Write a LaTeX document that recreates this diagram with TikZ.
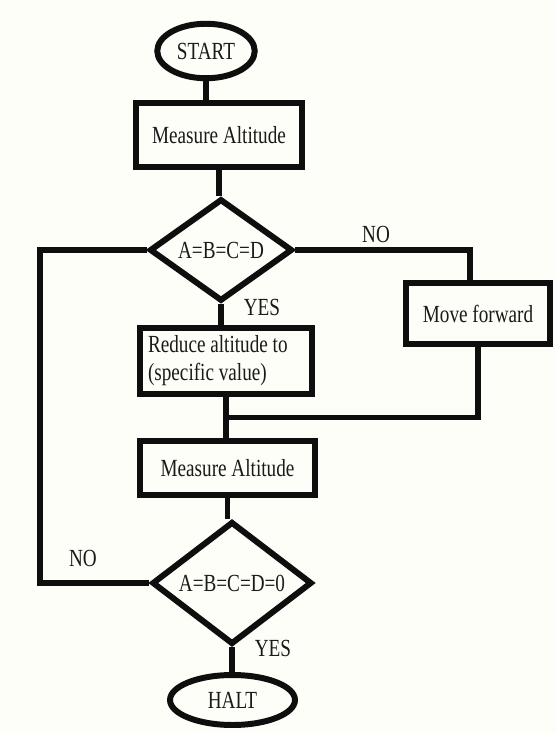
\documentclass[tikz,border=0pt]{standalone}
\usepackage{fontspec}
\setmainfont{Liberation Serif}[FakeStretch=0.78]
\usepackage{xcolor}
\usepackage{tikz}
\usetikzlibrary{shapes.geometric,calc}
\definecolor{paper}{HTML}{FDFEF8}
\definecolor{ink}{HTML}{0E0E0E}
\definecolor{textgray}{HTML}{1A1A1A}
\newcommand{\chartfont}{\fontsize{14pt}{16pt}\selectfont}
\tikzset{
  terminal/.style={draw=ink, ellipse, line width=3.4pt, inner sep=0pt, font=\chartfont, text=textgray},
  stepbox/.style={draw=ink, rectangle, line width=3.6pt, align=center, inner sep=0pt, font=\chartfont, text=textgray},
  decision/.style={draw=ink, diamond, line width=3.4pt, inner sep=0pt, font=\chartfont, text=textgray},
  flow/.style={draw=ink, line width=3.4pt},
  tag/.style={font=\chartfont, text=textgray, inner sep=0pt}
}

\begin{document}
\begin{tikzpicture}[x=0.02cm, y=-0.02cm]
  \fill[paper] (0,0) rectangle (556,733);
  \useasboundingbox (0,0) rectangle (556,733);

  \node[terminal, minimum width=1.95cm, minimum height=1.09cm] (start) at (206,51) {START};
  \node[stepbox, minimum width=3.32cm, minimum height=1.28cm] (measure) at (219,135) {Measure Altitude};
  \node[decision, minimum width=2.86cm, minimum height=1.8cm] (equal) at (221,250) {A=B=C=D};
  \node[stepbox, minimum width=3.44cm, minimum height=1.32cm, text width=3.12cm, align=flush left] (reduce) at (226,361) {Reduce altitude to\\(specific value)};
  \node[stepbox, minimum width=2.88cm, minimum height=1.22cm] (forward) at (478,313.5) {Move forward};
  \node[stepbox, minimum width=3.5cm, minimum height=1.08cm] (remeasure) at (227.5,468) {Measure Altitude};
  \node[decision, minimum width=3.2cm, minimum height=2.2cm] (zero) at (232,583) {A=B=C=D=0};
  \node[terminal, minimum width=2.5cm, minimum height=1cm] (halt) at (232.5,700) {HALT};

  \node[tag] (noright) at (376,234) {NO};
  \node[tag] (yesdown) at (262,307) {YES};
  \node[tag] (noleft) at (83,558) {NO};
  \node[tag] (yeshalt) at (273,648) {YES};

  \coordinate (merge) at ($(reduce.south)!0.5!(remeasure.north)$);
  \coordinate (loopx) at (40,0);

  \draw[flow] (start.south) -- (start.south |- measure.north);
  \draw[flow] (measure.south) -- (measure.south |- equal.north);
  \draw[flow] (equal.south) -- (equal.south |- reduce.north);
  \draw[flow] (reduce.south) -- (remeasure.north -| reduce.south);
  \draw[flow] (equal.east) -| ([xshift=-0.16cm]forward.north);
  \draw[flow] (forward.south) |- (merge);
  \draw[flow] (remeasure.south) -- (remeasure.south |- zero.north);
  \draw[flow] (zero.south) -- (zero.south |- halt.north);
  \draw[flow] (zero.west) -- (zero.west -| loopx) |- (equal.west);
\end{tikzpicture}
\end{document}
